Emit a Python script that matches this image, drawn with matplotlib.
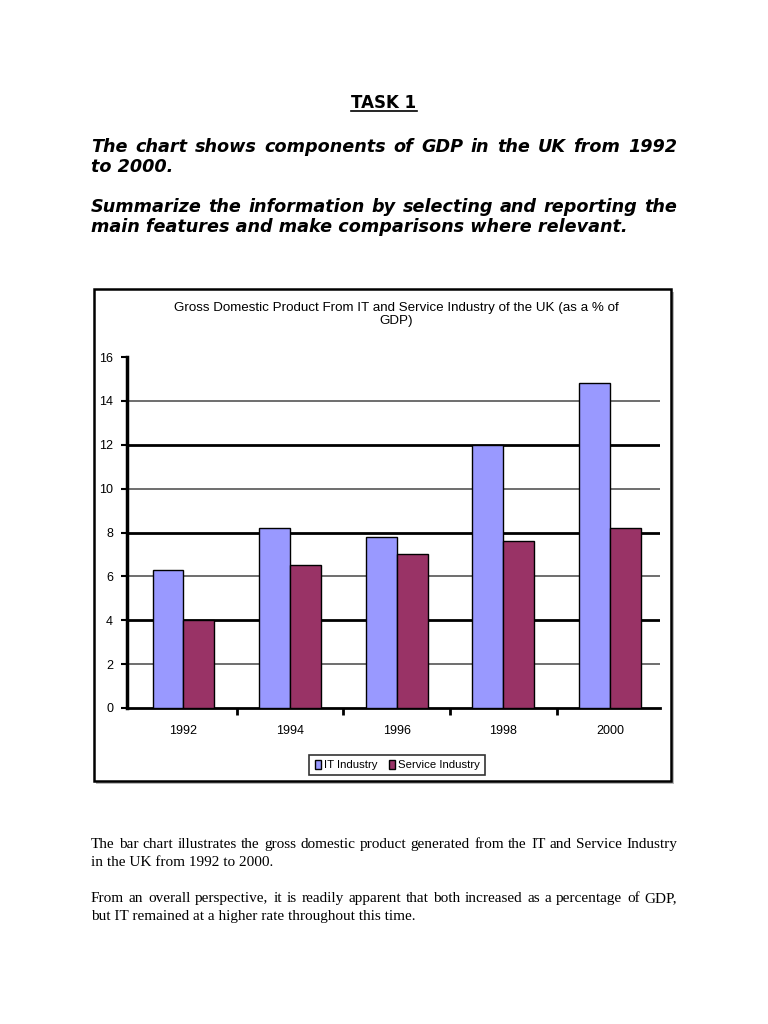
#!/usr/bin/env python3
"""
Task sheet page with the UK GDP (IT vs Service industry) bar chart.
"""

import numpy as np
import matplotlib
matplotlib.use("Agg")
import matplotlib.pyplot as plt
from matplotlib.patches import Rectangle
from matplotlib.lines import Line2D

# data
years = ["1992", "1994", "1996", "1998", "2000"]
it_industry = [6.3, 8.2, 7.8, 12.0, 14.8]
service_industry = [4.0, 6.5, 7.0, 7.6, 8.2]
series_names = ["IT Industry", "Service Industry"]
y_ticks = [0, 2, 4, 6, 8, 10, 12, 14, 16]

chart_title = "Gross Domestic Product From IT and Service Industry of the UK (as a % of\nGDP)"
heading = "TASK 1"
prompt_lines = [
    ("The chart shows components of GDP in the UK from 1992", True),
    ("to 2000.", False),
    ("Summarize the information by selecting and reporting the", True),
    ("main features and make comparisons where relevant.", False),
]
body_lines = [
    ("The bar chart illustrates the gross domestic product generated from the IT and Service Industry", True),
    ("in the UK from 1992 to 2000.", False),
    ("From an overall perspective, it is readily apparent that both increased as a percentage of GDP,", True),
    ("but IT remained at a higher rate throughout this time.", False),
]

W, H = 768, 1024
fig = plt.figure(figsize=(W / 100, H / 100), dpi=100)
fig.patch.set_facecolor("white")
renderer = fig.canvas.get_renderer()


def fx(px):
    return px / W


def fy(py):
    return 1 - py / H


def put_line(text, y_px, justify, left=91, right=677, **kw):
    """Place a line of text; stretch word gaps when justify is True."""
    if not justify:
        fig.text(fx(left), fy(y_px), text, ha="left", va="baseline", **kw)
        return
    words = text.split(" ")
    objs = [fig.text(0, fy(y_px), w, ha="left", va="baseline", **kw) for w in words]
    widths = [o.get_window_extent(renderer).width for o in objs]
    gap = (right - left - sum(widths)) / (len(words) - 1)
    x = left
    for o, w in zip(objs, widths):
        o.set_x(fx(x))
        x += w + gap


# heading with underline
bold_kw = dict(family="DejaVu Sans", fontweight="bold", fontsize=12)
t = fig.text(0.5, fy(108), heading, ha="center", va="baseline", **bold_kw)
bb = t.get_window_extent(renderer)
fig.add_artist(Line2D([bb.x0 / W, bb.x1 / W], [fy(111), fy(111)], color="black", lw=1.2))

prompt_kw = dict(family="DejaVu Sans", fontweight="bold", style="italic", fontsize=12.7)
for (line, just), y in zip(prompt_lines, [152, 172, 212, 232]):
    put_line(line, y, just, **prompt_kw)

body_kw = dict(family="Liberation Serif", fontsize=11.0)
for (line, just), y in zip(body_lines, [848, 866, 902, 920]):
    put_line(line, y, just, **body_kw)

# chart frame with a faint shadow
fig.add_artist(Rectangle((fx(96), fy(784)), fx(674 - 96), (784 - 292) / H,
                         facecolor="#b8b8b8", edgecolor="none", zorder=0))
fig.add_artist(Rectangle((fx(94), fy(781)), fx(671 - 94), (781 - 289) / H,
                         facecolor="white", edgecolor="black", lw=1.8, zorder=1))

narrow = ["Liberation Sans Narrow", "Liberation Sans", "DejaVu Sans"]
fig.text(fx(396), fy(302), chart_title, ha="center", va="top",
         family=narrow, fontsize=9.6, linespacing=1.1, zorder=3)

ax = fig.add_axes([fx(127), fy(708), fx(660 - 127), (708 - 357) / H], zorder=2)
ax.set_facecolor("none")

x = np.arange(len(years))
bw = 0.29
b1 = ax.bar(x - bw / 2, it_industry, bw, color="#9999ff", edgecolor="black",
            linewidth=1.0, label=series_names[0], zorder=3)
b2 = ax.bar(x + bw / 2, service_industry, bw, color="#993366", edgecolor="black",
            linewidth=1.0, label=series_names[1], zorder=3)

ax.set_xlim(-0.53, len(years) - 0.53)
ax.set_ylim(0, 16)
ax.set_yticks(y_ticks)
ax.set_yticklabels([str(v) for v in y_ticks], family=narrow, fontsize=9)

# gridlines, alternate heavy and light as in the picture
for v in y_ticks[1:-1]:
    heavy = v % 4 == 0
    ax.axhline(v, color="black" if heavy else "#555555", lw=2.0 if heavy else 1.2, zorder=1)

ax.set_xticks(x)
ax.set_xticklabels(years, family=narrow, fontsize=9)
ax.tick_params(axis="x", length=0, pad=12)
ax.set_xticks(x[:-1] + 0.5, minor=True)
ax.tick_params(axis="x", which="minor", length=5, width=2, direction="out")
ax.tick_params(axis="y", length=4, width=1.5, direction="out", pad=6)

for s in ["top", "right"]:
    ax.spines[s].set_visible(False)
ax.spines["left"].set_linewidth(2.5)
ax.spines["bottom"].set_linewidth(2.0)

leg = fig.legend(handles=[b1, b2], loc="center", bbox_to_anchor=(fx(397), fy(765)),
                 ncol=2, frameon=True, fancybox=False, edgecolor="black",
                 prop={"family": narrow, "size": 8.2}, handlelength=0.6,
                 handleheight=0.9, handletextpad=0.2, columnspacing=1.0,
                 borderpad=0.45)
leg.get_frame().set_linewidth(1.2)
leg.set_zorder(4)

fig.savefig("out.png", dpi=100, facecolor="white")
